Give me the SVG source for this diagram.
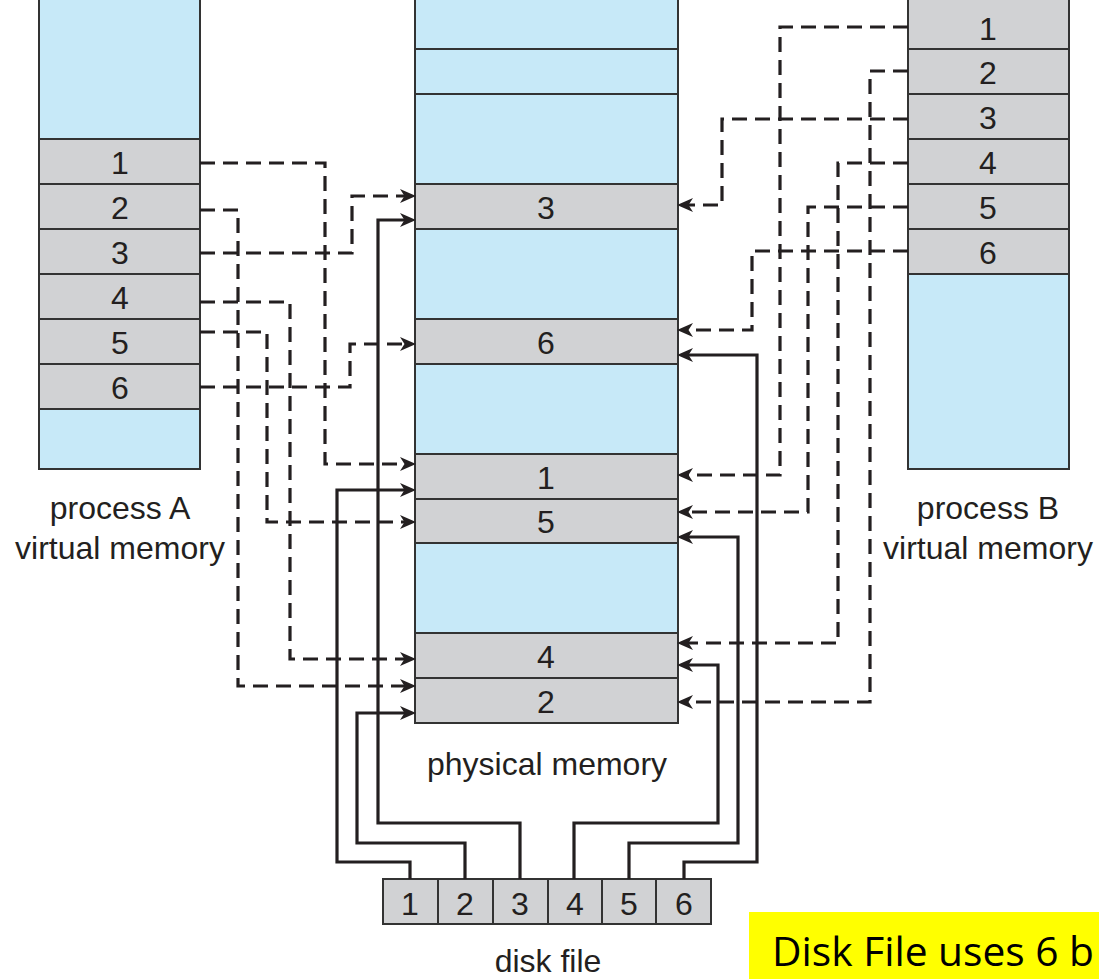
<svg xmlns="http://www.w3.org/2000/svg" width="1099" height="980" viewBox="0 0 1099 980">
<style>
.blue{fill:#C7E9F8;stroke:#333;stroke-width:2}
.gray{fill:#D1D2D4;stroke:#333;stroke-width:2}
.num{font-family:"Liberation Sans",Arial,sans-serif;font-size:32px;fill:#231F20;text-anchor:middle}
.lbl{font-family:"Liberation Sans",Arial,sans-serif;font-size:32px;fill:#231F20;text-anchor:middle}
.dash{fill:none;stroke:#231F20;stroke-width:3.2;stroke-dasharray:15 8;marker-end:url(#ah)}
.solid{fill:none;stroke:#231F20;stroke-width:3.2;marker-end:url(#ah)}
</style>
<defs>
<marker id="ah" markerUnits="userSpaceOnUse" markerWidth="18" markerHeight="16" refX="7" refY="7" orient="auto" viewBox="0 0 18 16">
<path d="M0,0 L16,7 L0,14 L4.5,7 z" fill="#231F20"/>
</marker>
</defs>
<rect width="1099" height="980" fill="#fff"/>

<g id="processA">
<rect class="blue" x="39" y="-5" width="161" height="474"/>
<rect class="gray" x="39" y="139" width="161" height="45"/>
<rect class="gray" x="39" y="184" width="161" height="45"/>
<rect class="gray" x="39" y="229" width="161" height="45"/>
<rect class="gray" x="39" y="274" width="161" height="45"/>
<rect class="gray" x="39" y="319" width="161" height="45"/>
<rect class="gray" x="39" y="364" width="161" height="45"/>
<text class="num" x="120" y="174">1</text>
<text class="num" x="120" y="219">2</text>
<text class="num" x="120" y="264">3</text>
<text class="num" x="120" y="309">4</text>
<text class="num" x="120" y="354">5</text>
<text class="num" x="120" y="399">6</text>
<text class="lbl" x="120" y="519">process A</text>
<text class="lbl" x="120" y="559">virtual memory</text>
</g>

<g id="physical">
<rect class="blue" x="415" y="-5" width="263" height="728"/>
<line x1="415" y1="49" x2="678" y2="49" stroke="#333" stroke-width="2"/>
<line x1="415" y1="94" x2="678" y2="94" stroke="#333" stroke-width="2"/>
<rect class="gray" x="415" y="184" width="263" height="45"/>
<rect class="gray" x="415" y="319" width="263" height="45"/>
<rect class="gray" x="415" y="454" width="263" height="45"/>
<rect class="gray" x="415" y="499" width="263" height="44"/>
<rect class="gray" x="415" y="633" width="263" height="45"/>
<rect class="gray" x="415" y="678" width="263" height="45"/>
<text class="num" x="546" y="219">3</text>
<text class="num" x="546" y="354">6</text>
<text class="num" x="546" y="489">1</text>
<text class="num" x="546" y="533">5</text>
<text class="num" x="546" y="668">4</text>
<text class="num" x="546" y="713">2</text>
<text class="lbl" x="547" y="775">physical memory</text>
</g>

<g id="processB">
<rect class="blue" x="908" y="-5" width="161" height="474"/>
<rect class="gray" x="908" y="-5" width="161" height="54"/>
<rect class="gray" x="908" y="49" width="161" height="45"/>
<rect class="gray" x="908" y="94" width="161" height="45"/>
<rect class="gray" x="908" y="139" width="161" height="45"/>
<rect class="gray" x="908" y="184" width="161" height="45"/>
<rect class="gray" x="908" y="229" width="161" height="45"/>
<text class="num" x="988" y="40">1</text>
<text class="num" x="988" y="84">2</text>
<text class="num" x="988" y="129">3</text>
<text class="num" x="988" y="174">4</text>
<text class="num" x="988" y="219">5</text>
<text class="num" x="988" y="264">6</text>
<text class="lbl" x="988" y="519">process B</text>
<text class="lbl" x="988" y="559">virtual memory</text>
</g>

<g id="diskfile">
<rect class="gray" x="383" y="879" width="55" height="45"/>
<rect class="gray" x="438" y="879" width="55" height="45"/>
<rect class="gray" x="493" y="879" width="55" height="45"/>
<rect class="gray" x="548" y="879" width="54" height="45"/>
<rect class="gray" x="602" y="879" width="54" height="45"/>
<rect class="gray" x="656" y="879" width="55" height="45"/>
<text class="num" x="410" y="915">1</text>
<text class="num" x="465" y="915">2</text>
<text class="num" x="520" y="915">3</text>
<text class="num" x="575" y="915">4</text>
<text class="num" x="629" y="915">5</text>
<text class="num" x="684" y="915">6</text>
<text class="lbl" x="548" y="972">disk file</text>
</g>

<g id="note">
<rect x="749" y="912" width="350" height="67" fill="#FFFF00"/>
<text x="772" y="966" font-family="'Open Sans','Noto Sans',sans-serif" font-size="40" fill="#000" textLength="322" lengthAdjust="spacingAndGlyphs">Disk File uses 6 b</text>
</g>

<g id="connectors">
<path class="dash" d="M200,163 H325 V464 H407"/>
<path class="dash" d="M200,210 H238 V686 H407"/>
<path class="dash" d="M200,253 H352 V196 H407"/>
<path class="dash" d="M200,302 H290 V659 H407"/>
<path class="dash" d="M200,332 H267 V522 H407"/>
<path class="dash" d="M200,387 H350 V344 H407"/>
<path class="dash" d="M908,27 H780 V475 H686"/>
<path class="dash" d="M908,71 H870 V702 H686"/>
<path class="dash" d="M908,119 H722 V205 H686"/>
<path class="dash" d="M908,163 H838 V643 H686"/>
<path class="dash" d="M908,207 H808 V512 H686"/>
<path class="dash" d="M908,251 H752 V330 H686"/>
<path class="solid" d="M410,879 V862 H337 V490 H407"/>
<path class="solid" d="M465,879 V843 H357 V713 H407"/>
<path class="solid" d="M520,879 V823 H378 V220 H407"/>
<path class="solid" d="M574,879 V823 H718 V665 H686"/>
<path class="solid" d="M629,879 V843 H738 V537 H686"/>
<path class="solid" d="M684,879 V862 H757 V355 H686"/>
</g>
</svg>
